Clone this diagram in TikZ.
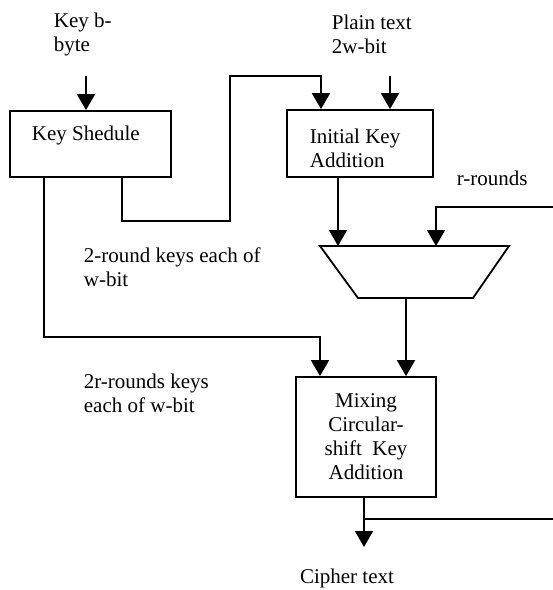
\documentclass[tikz,border=0pt]{standalone}
\usepackage{fontspec}
\setmainfont{Liberation Serif}
\usetikzlibrary{arrows.meta,calc}
\begin{document}
\begin{tikzpicture}[x=1pt,y=-1pt,
  line width=1.8pt,
  every node/.style={font=\fontsize{21}{24}\selectfont, inner sep=0pt},
  blk/.style={draw, line width=1.8pt, rectangle},
  lbl/.style={anchor=west, align=left},
  arr/.style={-{Triangle[width=18pt,length=16pt]}},
]
\path[use as bounding box] (0,0) rectangle (553,590);

% blocks
\node[blk, minimum width=161pt, minimum height=66pt] (ks) at (90.5,144) {};
\node[anchor=west] (kstext) at (31,135) {Key Shedule};
\node[blk, minimum width=146pt, minimum height=67pt] (ika) at (360,143.5) {};
\node[lbl] (ikatext) at (309,148.5) {Initial Key\\Addition};
\node[blk, minimum width=140pt, minimum height=120pt, align=center] (mix) at (366,437)
  {Mixing\\Circular-\\shift\ \ Key\\Addition};

% trapezoid (multiplexer)
\coordinate (tl) at (320,246);
\coordinate (tr) at (509,246);
\coordinate (br) at (473,298);
\coordinate (bl) at (358,298);
\draw (tl) -- (tr) -- (br) -- (bl) -- cycle;

% labels
\node[lbl] (kin) at (53,34.5) {Key b-\\byte};
\node[lbl] (pin) at (331,34.5) {Plain text\\2w-bit};
\node[lbl] (rr) at (456,178) {r-rounds};
\node[lbl] (k2) at (83,267.5) {2-round keys each of\\w-bit};
\node[lbl] (k2r) at (83,393.5) {2r-rounds keys\\each of w-bit};
\node (ct) at (347,578) {Cipher text};

% free ends
\coordinate (kstart) at (86,76);
\coordinate (pstart) at (390,76);
\coordinate (rstart) at (553,207);
\coordinate (fbend) at (553,519);
\coordinate (fbstart) at (364,519);
\coordinate (cend) at (364,547);

% connectors
\draw[arr] (kstart) -- (kstart |- ks.north);
\draw[arr] (pstart) -- (pstart |- ika.north);
\draw[arr] (ks.south -| 122,0) -- (122,221) -- (230,221) -- (230,76) -- (321,76) -- (321,0 |- ika.north);
\draw[arr] (ks.south -| 44,0) -- (44,337) -- (320,337) -- (320,0 |- mix.north);
\draw[arr] (ika.south -| 338,0) -- (338,0 |- tl);
\draw[arr] (rstart) -- (436,207) -- (436,0 |- tl);
\draw[arr] (406,298) -- (406,0 |- mix.north);
\draw[arr] (mix.south -| cend) -- (cend);
\draw (fbstart) -- (fbend);
\end{tikzpicture}
\end{document}
